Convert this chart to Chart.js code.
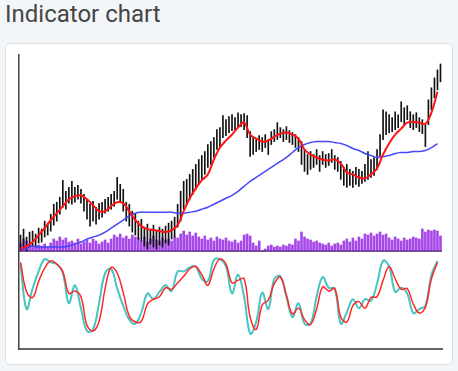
<!DOCTYPE html>
<html>
<head>
<meta charset="utf-8">
<script src="https://cdn.jsdelivr.net/npm/chart.js@4.4.1/dist/chart.umd.min.js"></script>
<style>
  body { margin: 0; width: 458px; height: 371px; overflow: hidden; position: relative; background: #f3f6f9; font-family: Roboto, sans-serif; }
  .title { position: absolute; left: 5px; top: 0; font-size: 24px; line-height: 28px; color: #454545; }
  .card { position: absolute; left: 5px; top: 43px; width: 446px; height: 320px; border: 1px solid #dcdfe3; border-radius: 5px; background: #fff; }
  .box { position: absolute; left: 0; top: 0; width: 446px; height: 320px; }
</style>
</head>
<body>
<div class="title">Indicator chart</div>
<div class="card"><div class="box"><canvas id="indicatorChart"></canvas></div></div>
<script>
// daily high / low prices
var highs = [64,70,62,67,68,65,71,70,78,76, 85,95,97,102,119,108,112,118,112,114,
  110,105,100,95,98,92,96,97,100,102, 105,108,122,115,110,97,95,88,85,78,
  80,72,75,70,74,68,72,70,73,76, 78,82,95,108,118,120,125,130,135,140,
  144,148,155,158,162,170,172,184,180,183, 185,182,187,185,186,184,168,162,160,164,
  162,165,160,168,170,177,172,170,173,169, 167,165,162,158,150,145,148,145,150,144,
  148,145,146,150,144,142,138,132,135,130, 128,132,130,128,135,148,140,142,150,165,
  190,188,185,182,188,185,198,192,194,188, 185,187,182,180,175,200,212,222,230,236];
var lows = [48,50,48,52,53,52,56,57,62,64, 68,74,78,85,92,90,96,95,97,100,
  96,88,80,73,78,75,80,82,86,88, 90,93,100,97,88,78,73,67,64,60,
  58,53,50,55,52,50,54,52,56,54, 60,62,72,78,90,95,100,105,110,115,
  120,125,132,135,142,150,152,162,164,167, 169,170,172,173,170,162,143,145,148,150,
  148,152,145,155,158,160,162,158,160,157, 155,152,148,135,128,125,130,132,135,128,
  135,132,134,137,130,128,120,114,112,114, 112,115,113,116,118,120,122,124,130,143,
  160,165,167,168,170,172,178,175,180,172, 170,172,168,166,153,175,190,202,210,218];
var volumes = [800,1200,1000,700, 500,400,600,500,700,400, 800,1200,1000,1400, 1100,1300,900,
  1000,800,1200,700,900,1100,800,1200,1000,700,900,1100,800,
  1200,1600,1400,1700,1300,1500,1200,1600,1400,
  1300,1000,1400,900,1200,1500,1100,1000,1300,
  1100,1200,1000,1400,1300, 1700,2000,1600,1900,1500,1800,
  1400,1200,1500,1100,1300,1000,1400,1200,1100,1300,1000,
  900,1100,800,1000, 1600,1700,1500, 800,500,1000, 0,200,500,
  600,400,500,400,600,500,700,600, 1200,1000,1900,1400,1200,
  1100,900,1000,800,700,600,800,500,700,800,600,
  1000,1200,900,1300,1000,1400,1200, 1700,1600,1800,1500,1700,1900,1600,1700,
  1300,1100,1400,1200,1000,1300,1100,1200,1400,1300,1200,
  2200,1900,2100,2000,2100,2000, 1500];

// indicator lines, one value every second trading day
var fastAverage = [50,53,57,64,71,79,86,93,100,103, 104,100,94,88,88,93,97,96,88,79,
  73,70,69,68,67,69,74,88,101,111, 119,125,140,152,159,165,172,177,165,161,
  158,159,163,166,167,165,161,150,145,142, 140,139,140,136,127,125,122,121,125,131,
  145,156,165,171,177,178,177,176,187,208];
var slowAverage = [49,51,53,52,52,52,52,52,53,55, 57,60,62,64,67,71,75,79,83,86,
  87,87,87,87,87,87,86,86,87,88, 90,92,95,98,101,104,108,113,118,122,
  126,130,134,138,142,147,152,155,157,158, 158,158,157,156,154,151,149,146,144,142,
  143,144,146,147,147,148,148,149,152,156];
var stochK = [90,35,60,81,96,92,90,79,42,64, 36,8,10,42,79,84,60,39,22,17,
  31,54,47,56,64,57,81,81,86,87, 72,69,95,96,87,54,77,50,5,19,
  55,35,72,75,50,25,42,17,17,50, 74,61,60,17,31,47,36,47,45,66,
  94,87,56,61,54,30,35,39,77,94];
var stochD = [92,56,49,69,85,94,90,81,54,57, 50,15,8,20,60,86,79,55,26,19,
  20,41,47,50,61,59,67,75,84,87, 77,64,84,96,90,67,70,72,25,10,
  40,46,66,74,52,29,36,22,16,35, 62,57,60,25,19,39,44,36,49,50,
  70,87,72,59,60,41,30,37,72,92];

var days = highs.map(function (h, i) { return 'Day ' + (i + 1); });

function everySecondDay(values) {
  return values.map(function (v, k) { return { x: days[k * 2], y: v }; });
}

var ctx = document.getElementById('indicatorChart').getContext('2d');
window.indicatorChart = new Chart(ctx, {
  data: {
    labels: days,
    datasets: [{
      type: 'line',
      data: everySecondDay(fastAverage),
      borderColor: 'rgb(255, 20, 20)',
      borderWidth: 2,
      pointRadius: 0,
      tension: 0.4,
      yAxisID: 'y'
    }, {
      type: 'line',
      data: everySecondDay(slowAverage),
      borderColor: 'rgb(70, 70, 250)',
      borderWidth: 1.5,
      pointRadius: 0,
      tension: 0.4,
      yAxisID: 'y'
    }, {
      type: 'line',
      data: everySecondDay(stochD),
      borderColor: 'rgb(255, 40, 40)',
      borderWidth: 1.5,
      pointRadius: 0,
      tension: 0.4,
      yAxisID: 'y2'
    }, {
      type: 'line',
      data: everySecondDay(stochK),
      borderColor: 'rgb(72, 196, 192)',
      borderWidth: 2,
      pointRadius: 0,
      tension: 0.4,
      yAxisID: 'y2'
    }, {
      type: 'bar',
      data: lows.map(function (l, i) { return [l, highs[i]]; }),
      backgroundColor: '#111',
      barThickness: 1,
      grouped: false,
      yAxisID: 'y'
    }, {
      type: 'bar',
      data: volumes,
      backgroundColor: 'rgba(150, 40, 228, 0.85)',
      barThickness: 2,
      grouped: false,
      yAxisID: 'yv'
    }]
  },
  options: {
    responsive: true,
    maintainAspectRatio: false,
    animation: false,
    layout: { padding: { left: 13, top: 11, right: 10, bottom: 7 } },
    plugins: { legend: { display: false }, tooltip: { enabled: false } },
    scales: {
      x: {
        ticks: { display: false },
        grid: { display: false },
        border: { color: '#666', width: 2 }
      },
      // left stacks are placed last-defined first, so the oscillator pane comes before the price pane here
      y2: {
        position: 'left',
        stack: 'panes',
        stackWeight: 1,
        min: -14,
        max: 106,
        ticks: { display: false },
        grid: { display: false, drawTicks: false },
        border: { color: '#444', width: 1.5 }
      },
      y: {
        position: 'left',
        stack: 'panes',
        stackWeight: 2,
        min: 48,
        max: 245,
        ticks: { display: false },
        grid: {
          drawTicks: false,
          lineWidth: 2,
          color: function (c) { return c.index === 0 ? '#666' : 'rgba(0,0,0,0)'; }
        },
        border: { color: '#444', width: 1.5 }
      },
      yv: {
        display: false,
        position: 'left',
        min: -9800,
        max: 19600
      }
    }
  }
});
</script>
</body>
</html>
